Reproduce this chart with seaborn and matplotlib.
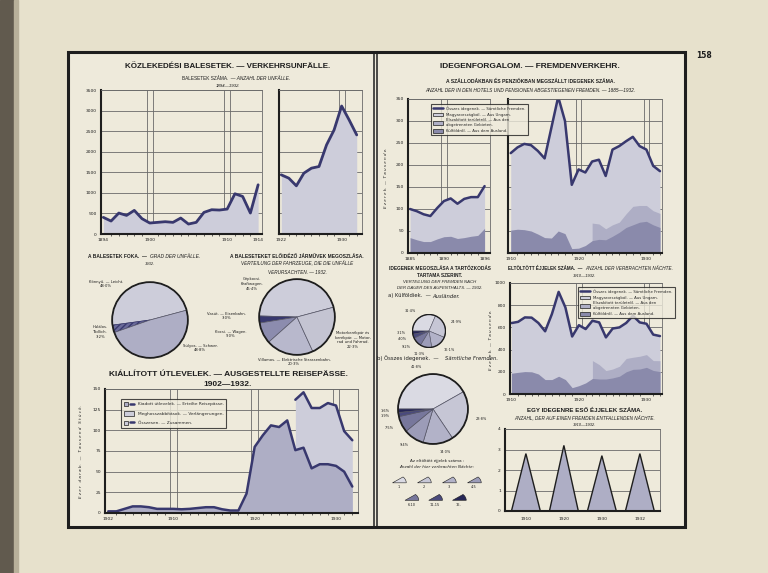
import matplotlib
matplotlib.use('Agg')
import matplotlib.pyplot as plt
import seaborn as sns
from matplotlib import font_manager
from matplotlib.patches import Rectangle, Patch, Wedge
from matplotlib.lines import Line2D
from matplotlib.legend_handler import HandlerTuple

# ---- data ----
acc_years1 = list(range(1894, 1915))
acc_vals1 = [404, 315, 509, 452, 574, 372, 267, 283, 299, 283, 388, 242, 283, 525, 590, 582, 606, 978, 913, 509, 1196]
acc_years2 = list(range(1922, 1933))
acc_vals2 = [1438, 1357, 1171, 1479, 1600, 1640, 2165, 2529, 3111, 2771, 2408]

severity_labels = ['Könnyű. — Leicht.\n48·0%', 'Halálos.\nTödlich.\n3·2%', 'Súlyos. — Schwer.\n48·8%']
severity_vals = [48.0, 3.2, 48.8]

vehicle_labels = ['Gépkocsi.\nKraftwagen.\n45·4%', 'Vasút. — Eisenbahn.\n3·0%', 'Kocsi. — Wagen.\n9·0%',
                  'Villamos. — Elektrische Strassenbahn.\n20·3%',
                  'Motorkerékpár és\nkerékpár. — Motor-\nrad und Fahrrad.\n22·3%']
vehicle_vals = [45.4, 3.0, 9.0, 20.3, 22.3]

pass_years = list(range(1902, 1933))
pass_issued = [2, 2, 5, 8, 8, 7, 5, 5, 5, 4.5, 5, 6, 7, 7, 4.5, 3, 3, 23.5, 80, 94, 106, 104, 112, 76, 79, 54, 59, 59, 57, 50, 32]
pass_total_years = list(range(1925, 1933))
pass_total = [137, 146, 127, 127, 133, 130, 99, 88]

guest_years1 = list(range(1885, 1897))
guest_total1 = [100, 95, 88, 84, 102, 118, 124, 112, 123, 127, 127, 152]
guest_foreign1 = [35, 30, 26, 26, 32, 37, 38, 33, 35, 38, 40, 56]
guest_years2 = list(range(1910, 1933))
guest_total2 = [227, 240, 248, 245, 232, 215, 285, 355, 300, 155, 190, 183, 208, 212, 175, 235, 243, 254, 264, 243, 235, 198, 186]
guest_foreign2 = [52, 54, 53, 50, 43, 35, 34, 50, 44, 10, 11, 17, 28, 31, 30, 38, 47, 58, 64, 70, 72, 64, 58]
guest_mid_years = list(range(1922, 1933))
guest_mid = [68, 66, 55, 64, 70, 89, 106, 108, 108, 96, 90]

night_years = list(range(1910, 1933))
night_total = [639, 650, 690, 688, 640, 565, 720, 920, 780, 518, 620, 585, 660, 645, 510, 590, 600, 640, 705, 645, 633, 535, 522]
night_foreign = [187, 195, 202, 200, 180, 130, 130, 160, 130, 57, 75, 100, 140, 135, 135, 145, 160, 200, 222, 225, 240, 212, 202]
night_mid_years = list(range(1922, 1933))
night_mid = [301, 265, 211, 225, 250, 320, 331, 340, 355, 301, 300]

stay_labels = ['1', '2', '3', '4-5', '6-10', '11-15', '16-']
stay_foreign = [31.4, 24.9, 16.1, 11.3, 9.2, 4.0, 3.1]
stay_all = [41.8, 23.8, 14.0, 9.4, 7.5, 1.9, 1.6]

ppn_years = ['1910', '1920', '1930', '1932']
ppn_vals = [2.8, 3.2, 2.7, 2.8]

# ---- look ----
W, H = 768, 573
PAGE = '#e7e1cc'
INNER = '#eeeadb'
NAVY = '#38386e'
LIGHT = '#cdcdda'
MID = '#aeaec5'
DARK = '#8a8aab'
GRID = '#6a6a6a'
INK = '#1e1e1e'
STAY_COLORS = ['#dadae3', '#c6c6d5', '#b2b2c8', '#9c9cb8', '#77779c', '#4a4a7c', '#262656']

sns.set_theme(style='white')
names = {f.name for f in font_manager.fontManager.ttflist}
NARROW = 'Liberation Sans Narrow' if 'Liberation Sans Narrow' in names else 'Liberation Sans'
plt.rcParams['font.family'] = ['DejaVu Sans']

fig = plt.figure(figsize=(7.68, 5.73), dpi=100, facecolor=PAGE)


def add_ax(x0, y0, x1, y1):
    return fig.add_axes([x0 / W, 1 - y1 / H, (x1 - x0) / W, (y1 - y0) / H])


def txt(x, y, s, size=3.6, ha='center', **kw):
    fig.text(x / W, 1 - y / H, s, fontsize=size, color=INK, ha=ha, va='center', **kw)


def title(x, y, s, size=6.5):
    txt(x, y, s, size=size, weight='bold', family=NARROW)


def two(x, y, hu, de, size=3.6):
    txt(x, y, hu, size=size, ha='right', family=NARROW)
    txt(x, y, '  — ' + de, size=size, ha='left', style='italic', family=NARROW)


def style(ax, xlim, ylim, yticks, ylabels=True):
    ax.set_facecolor('none')
    ax.set_xlim(*xlim)
    ax.set_ylim(*ylim)
    for s in ['top', 'right']:
        ax.spines[s].set_color(GRID)
        ax.spines[s].set_linewidth(0.6)
    for s in ['left', 'bottom']:
        ax.spines[s].set_color(INK)
        ax.spines[s].set_linewidth(1.5)
    ax.set_yticks(yticks)
    if not ylabels:
        ax.set_yticklabels([])
    ax.yaxis.grid(True, color=GRID, lw=0.6)
    ax.xaxis.grid(False)
    ax.tick_params(labelsize=3.2, length=2, width=0.6, colors=INK, pad=1)
    ax.tick_params(axis='x', which='minor', length=1.5, width=0.5, bottom=True)
    ax.set_xlabel('')
    ax.set_ylabel('')


def decade(ax, years):
    for y in years:
        ax.axvline(y - 0.4, color=GRID, lw=0.6, zorder=0.5)
        ax.axvline(y + 0.4, color=GRID, lw=0.6, zorder=0.5)


def legend(ax, handles, labels, x, y, size=2.8, spacing=0.4):
    lg = ax.legend(handles, labels, loc='upper left', bbox_to_anchor=(x / W, 1 - y / H),
                   bbox_transform=fig.transFigure, fontsize=size, frameon=True, fancybox=False,
                   handlelength=2.4, handleheight=1.2, borderpad=0.6, labelspacing=spacing,
                   handler_map={tuple: HandlerTuple(ndivide=None)})
    lg.get_frame().set_edgecolor(INK)
    lg.get_frame().set_linewidth(0.8)
    lg.get_frame().set_facecolor(INNER)
    return lg


def ring(ax, lw=1.3):
    ax.add_patch(plt.Circle((0, 0), 1, fill=False, lw=lw, color=INK))
    ax.set_xlim(-1.03, 1.03)
    ax.set_ylim(-1.03, 1.03)


# ---- page ----
fig.add_artist(Rectangle((0, 0), 14 / W, 1, transform=fig.transFigure, color='#615a4e', zorder=0))
fig.add_artist(Rectangle((14 / W, 0), 4 / W, 1, transform=fig.transFigure, color='#b8b09a', zorder=0))
fig.add_artist(Rectangle((68 / W, 1 - 527 / H), 617 / W, 475 / H, transform=fig.transFigure,
                         facecolor=INNER, edgecolor=INK, lw=2.2, zorder=0))
for xx in (374, 377):
    fig.add_artist(Line2D([xx / W, xx / W], [1 - 527 / H, 1 - 52 / H], transform=fig.transFigure, color=INK, lw=1.1))
txt(704, 55, '158', size=5.5, weight='bold')

# ---- accidents ----
title(228, 67, 'KÖZLEKEDÉSI BALESETEK. — VERKEHRSUNFÄLLE.', 5.8)
two(228, 78, 'BALESETEK SZÁMA.', 'ANZAHL DER UNFÄLLE.', 3.4)
txt(228, 86, '1894—1932.', size=3.2, style='italic', family=NARROW)

ax1 = add_ax(101, 90, 262, 234)
ax1.fill_between(acc_years1, acc_vals1, color=LIGHT, lw=0)
sns.lineplot(x=acc_years1, y=acc_vals1, ax=ax1, color=NAVY, lw=2.0)
style(ax1, (1893.7, 1914.5), (0, 3500), range(0, 3501, 500))
decade(ax1, [1900, 1910])
ax1.set_xticks([1894, 1900, 1910, 1914])
ax1.set_xticks(acc_years1, minor=True)

ax1b = add_ax(279, 90, 362, 234)
ax1b.fill_between(acc_years2, acc_vals2, color=LIGHT, lw=0)
sns.lineplot(x=acc_years2, y=acc_vals2, ax=ax1b, color=NAVY, lw=2.0)
style(ax1b, (1921.7, 1932.7), (0, 3500), range(0, 3501, 500), ylabels=False)
ax1b.tick_params(axis='y', length=0)
decade(ax1b, [1930])
ax1b.set_xticks([1922, 1930])
ax1b.set_xticks(acc_years2, minor=True)

# ---- accident pies ----
txt(150, 256, 'A BALESETEK FOKA.  —  ', size=3.5, ha='right', family=NARROW, weight='bold')
txt(150, 256, 'GRAD DER UNFÄLLE.', size=3.5, ha='left', style='italic', family=NARROW)
txt(150, 264, '1932.', size=3.0, style='italic', family=NARROW)
axp1 = add_ax(111, 281, 189, 359)
w1, _ = axp1.pie(severity_vals, colors=[LIGHT, NAVY, MID], startangle=15,
                 wedgeprops=dict(edgecolor='#555566', linewidth=0.5))
w1[1].set_hatch('//////')
w1[1].set_facecolor('#6a6a9a')
w1[1].set_edgecolor(NAVY)
ring(axp1)
for (lx, ly), lab in zip([(106, 284), (100, 332), (200, 348)], severity_labels):
    txt(lx, ly, lab, size=2.7, linespacing=1.3)

txt(297, 256, 'A BALESETEKET ELŐIDÉZŐ JÁRMŰVEK MEGOSZLÁSA.', size=3.5, family=NARROW, weight='bold')
txt(297, 264, 'VERTEILUNG DER FAHRZEUGE, DIE DIE UNFÄLLE', size=3.3, style='italic', family=NARROW)
txt(297, 272, 'VERURSACHTEN. — 1932.', size=3.3, style='italic', family=NARROW)
axp2 = add_ax(258, 278, 336, 356)
axp2.pie(vehicle_vals, colors=[LIGHT, NAVY, '#8c8cae', '#b8b8cc', '#c4c4d2'], startangle=15,
         wedgeprops=dict(edgecolor='#555566', linewidth=0.5))
ring(axp2)
for (lx, ly), lab in zip([(252, 284), (226, 316), (231, 334), (294, 362), (353, 340)], vehicle_labels):
    txt(lx, ly, lab, size=2.7, linespacing=1.3)

# ---- passports ----
title(228, 374, 'KIÁLLÍTOTT ÚTLEVELEK. — AUSGESTELLTE REISEPÄSSE.', 6.0)
title(228, 384, '1902—1932.', 6.0)
ax3 = add_ax(105, 389, 358, 513)
ax3.fill_between(pass_total_years, pass_total, color=LIGHT, lw=0)
ax3.fill_between(pass_years, pass_issued, color=MID, lw=0)
sns.lineplot(x=pass_years, y=pass_issued, ax=ax3, color=NAVY, lw=1.8)
sns.lineplot(x=pass_total_years, y=pass_total, ax=ax3, color=NAVY, lw=1.8)
style(ax3, (1901.6, 1932.7), (0, 150), range(0, 151, 25))
decade(ax3, [1910, 1920, 1930])
ax3.set_xticks([1902, 1910, 1920, 1930])
ax3.set_xticks(pass_years, minor=True)
txt(81, 452, 'E z e r   d a r a b.   —   T a u s e n d   S t ü c k.', size=3.0, rotation=90, style='italic')
legend(ax3, [(Patch(facecolor=MID, edgecolor=INK, lw=0.5), Line2D([], [], color=NAVY, lw=1.8)),
             Patch(facecolor=LIGHT, edgecolor=INK, lw=0.5),
             (Patch(facecolor=LIGHT, edgecolor=INK, lw=0.5), Line2D([], [], color=NAVY, lw=1.8))],
       ['Kiadott útlevelek. — Erteilte Reisepässe.', 'Meghosszabbítások. — Verlängerungen.',
        'Összesen. — Zusammen.'], 119, 397, size=3.1, spacing=1.1)

# ---- tourism ----
title(530, 66, 'IDEGENFORGALOM. — FREMDENVERKEHR.', 6.0)
txt(530, 81, 'A SZÁLLODÁKBAN ÉS PENZIÓKBAN MEGSZÁLLT IDEGENEK SZÁMA.', size=3.6, family=NARROW, weight='bold')
txt(530, 91, 'ANZAHL DER IN DEN HOTELS UND PENSIONEN ABGESTIEGENEN FREMDEN. — 1885—1932.', size=3.4,
    style='italic', family=NARROW)
txt(386, 178, 'E z e r e k.  —  T a u s e n d e.', size=3.0, rotation=90, style='italic')

ax4a = add_ax(408, 99, 490, 253)
ax4a.fill_between(guest_years1, guest_total1, color=LIGHT, lw=0)
ax4a.fill_between(guest_years1, guest_foreign1, color=DARK, lw=0)
sns.lineplot(x=guest_years1, y=guest_total1, ax=ax4a, color=NAVY, lw=1.8)
style(ax4a, (1884.7, 1896.8), (0, 350), range(0, 351, 50))
decade(ax4a, [1890])
ax4a.set_xticks([1885, 1890, 1896])
ax4a.set_xticks(guest_years1, minor=True)

ax4b = add_ax(508, 99, 662, 253)
ax4b.fill_between(guest_years2, guest_total2, color=LIGHT, lw=0)
ax4b.fill_between(guest_mid_years, guest_mid, color=MID, lw=0)
ax4b.fill_between(guest_years2, guest_foreign2, color=DARK, lw=0)
sns.lineplot(x=guest_years2, y=guest_total2, ax=ax4b, color=NAVY, lw=1.8)
style(ax4b, (1909.6, 1932.3), (0, 350), range(0, 351, 50), ylabels=False)
ax4b.tick_params(axis='y', length=0)
decade(ax4b, [1920, 1930])
ax4b.set_xticks([1910, 1920, 1930])
ax4b.set_xticks(guest_years2, minor=True)

guest_handles = [Line2D([], [], color=NAVY, lw=1.8), Patch(facecolor=LIGHT, edgecolor=INK, lw=0.5),
                 Patch(facecolor=MID, edgecolor=INK, lw=0.5), Patch(facecolor=DARK, edgecolor=INK, lw=0.5)]
guest_labels = ['Összes idegenek. — Sämtliche Fremden.', 'Magyarországból. — Aus Ungarn.',
                'Elszakított területről. — Aus den\nabgetrennten Gebieten.', 'Külföldről. — Aus dem Ausland.']
legend(ax4b, guest_handles, guest_labels, 429, 102)

# ---- stay pies ----
txt(440, 268, 'IDEGENEK MEGOSZLÁSA A TARTÓZKODÁS', size=3.4, family=NARROW, weight='bold')
txt(440, 275, 'TARTAMA SZERINT.', size=3.4, family=NARROW, weight='bold')
txt(440, 282, 'VERTEILUNG DER FREMDEN NACH', size=3.1, style='italic', family=NARROW)
txt(440, 288, 'DER DAUER DES AUFENTHALTS. — 1932.', size=3.1, style='italic', family=NARROW)
txt(432, 296, 'a) Külföldiek.  — ', size=3.8, ha='right')
txt(432, 296, 'Ausländer.', size=3.8, ha='left', style='italic')

pct = lambda vals: [f'{v:.1f}%'.replace('.', '·') for v in vals]
axs1 = add_ax(412, 314, 446, 348)
axs1.pie(stay_foreign, colors=STAY_COLORS, startangle=180, counterclock=False, labels=pct(stay_foreign),
         labeldistance=1.45, textprops=dict(fontsize=2.5, color=INK),
         wedgeprops=dict(edgecolor='#555566', linewidth=0.4))
ring(axs1, 1.0)

txt(377, 358, 'b) Összes idegenek.  — ', size=3.8, ha='left')
txt(445, 358, 'Sämtliche Fremden.', size=3.8, ha='left', style='italic')
axs2 = add_ax(397, 373, 469, 445)
axs2.pie(stay_all, colors=STAY_COLORS, startangle=180, counterclock=False, labels=pct(stay_all),
         labeldistance=1.25, textprops=dict(fontsize=2.5, color=INK),
         wedgeprops=dict(edgecolor='#555566', linewidth=0.5))
ring(axs2)

txt(437, 461, 'Az eltöltött éjjelek száma :', size=3.0)
txt(437, 467, 'Anzahl der hier verbrachten Nächte:', size=3.0, style='italic')
axk = add_ax(385, 472, 490, 512)
axk.set_xlim(-0.6, 3.6)
axk.set_ylim(-1.9, 0.5)
axk.axis('off')
for i, (lab, col) in enumerate(zip(stay_labels, STAY_COLORS)):
    row = 0 if i < 4 else 1
    col_pos = i if i < 4 else (i - 4) * 0.95 + 0.5
    yy = -row * 1.05
    axk.add_patch(Wedge((col_pos - 0.3, yy - 0.15), 0.55, 0, 40, facecolor=col, edgecolor=INK, lw=0.4))
    axk.text(col_pos - 0.05, yy - 0.42, lab, fontsize=2.5, color=INK, ha='center', va='center')

# ---- nights ----
txt(585, 268, 'ELTÖLTÖTT ÉJJELEK SZÁMA.  —  ', size=3.3, ha='right', family=NARROW, weight='bold')
txt(585, 268, 'ANZAHL DER VERBRACHTEN NÄCHTE.', size=3.3, ha='left', style='italic', family=NARROW)
txt(585, 276, '1910—1932.', size=3.0, style='italic', family=NARROW)
txt(491, 340, 'E z e r e k.  —  T a u s e n d e.', size=3.0, rotation=90, style='italic')

ax5 = add_ax(510, 283, 662, 394)
ax5.fill_between(night_years, night_total, color=LIGHT, lw=0)
ax5.fill_between(night_mid_years, night_mid, color=MID, lw=0)
ax5.fill_between(night_years, night_foreign, color=DARK, lw=0)
sns.lineplot(x=night_years, y=night_total, ax=ax5, color=NAVY, lw=1.8)
style(ax5, (1909.8, 1932.3), (0, 1000), range(0, 1001, 200))
decade(ax5, [1920, 1930])
ax5.set_xticks([1910, 1920, 1930])
ax5.set_xticks(night_years, minor=True)
legend(ax5, guest_handles, guest_labels, 576, 285)

# ---- nights per guest ----
txt(585, 410, 'EGY IDEGENRE ESŐ ÉJJELEK SZÁMA.', size=4.4, family=NARROW, weight='bold')
txt(585, 419, 'ANZAHL, DER AUF EINEN FREMDEN ENTFALLENDEN NÄCHTE.', size=3.3, style='italic', family=NARROW)
txt(585, 425, '1910—1932.', size=3.0, style='italic', family=NARROW)
ax6 = add_ax(505, 429, 660, 511)
for i, v in enumerate(ppn_vals):
    ax6.fill([i - 0.38, i, i + 0.38], [0, v, 0], facecolor=MID, edgecolor=INK, lw=1.0)
style(ax6, (-0.55, 3.53), (0, 4), range(0, 5))
ax6.set_xticks(range(len(ppn_years)))
ax6.set_xticklabels(ppn_years)
ax6.tick_params(axis='x', length=0, pad=4)

fig.savefig('out.png', dpi=100, facecolor=PAGE)
